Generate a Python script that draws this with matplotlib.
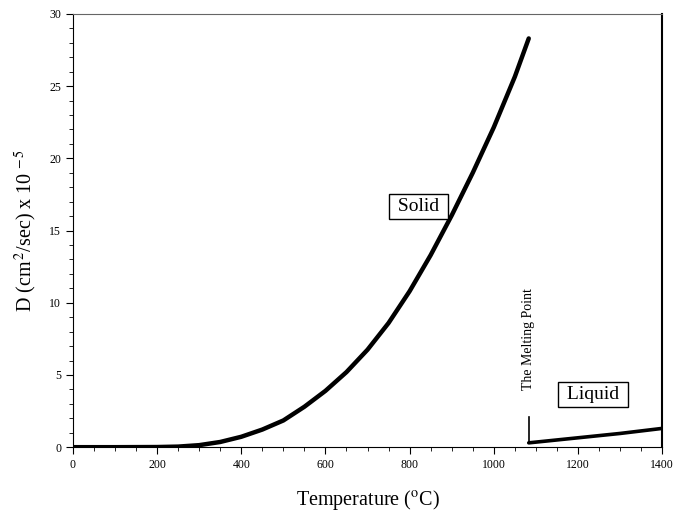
import numpy as np
from matplotlib import pyplot as plt
from matplotlib.ticker import MultipleLocator

# values
solid_T = [0, 100, 200, 250, 300, 350, 400, 450, 500, 550, 600, 650, 700,
           750, 800, 850, 900, 950, 1000, 1050, 1083]
solid_D = [0.0, 0.0, 0.01, 0.04, 0.14, 0.36, 0.72, 1.22, 1.85, 2.8, 3.9, 5.2,
           6.75, 8.6, 10.8, 13.3, 16.05, 19.0, 22.15, 25.65, 28.3]
liquid_T = [1083, 1200, 1300, 1400]
liquid_D = [0.3, 0.65, 0.95, 1.3]
melt_T = 1083
melt_D = [0.3, 2.1]

plt.rcParams['font.family'] = 'Liberation Serif'
plt.rcParams['mathtext.fontset'] = 'stix'

fig = plt.figure(figsize=(6.75, 5.14), dpi=100)
ax = fig.add_axes([0.108, 0.130, 0.873, 0.843])

ax.plot(solid_T, solid_D, color='black', linewidth=3.2, solid_capstyle='round',
        solid_joinstyle='round')
ax.plot(liquid_T, liquid_D, color='black', linewidth=2.6, solid_capstyle='round')
ax.plot([melt_T, melt_T], melt_D, color='black', linewidth=1.2)

ax.text(melt_T, 3.95, 'The Melting Point', rotation=90, ha='center', va='bottom', fontsize=10)
box = dict(boxstyle='square,pad=0.2', facecolor='white', edgecolor='black', linewidth=1)
ax.text(821, 16.67, ' Solid ', ha='center', va='center', fontsize=14, bbox=box)
ax.text(1236, 3.64, ' Liquid ', ha='center', va='center', fontsize=14, bbox=box)

ax.set_xlim(0, 1400)
ax.set_ylim(0, 30)
ax.xaxis.set_major_locator(MultipleLocator(200))
ax.xaxis.set_minor_locator(MultipleLocator(50))
ax.yaxis.set_major_locator(MultipleLocator(5))
ax.yaxis.set_minor_locator(MultipleLocator(1))
ax.tick_params(which='both', direction='out', top=False, right=False, labelsize=8.5)
ax.tick_params(which='major', length=5)
ax.tick_params(which='minor', length=3)
ax.spines['top'].set_color('#666666')
ax.spines['top'].set_linewidth(0.8)
ax.spines['right'].set_linewidth(1.5)

ax.set_xlabel('Temperature ($^{\\rm o}$C)', fontsize=14.5, labelpad=12)
ax.set_ylabel('D (cm$^{\\,2}$/sec) x 10$^{\\,-5}$', fontsize=14.5, labelpad=7)

plt.savefig('out.png', dpi=100)
